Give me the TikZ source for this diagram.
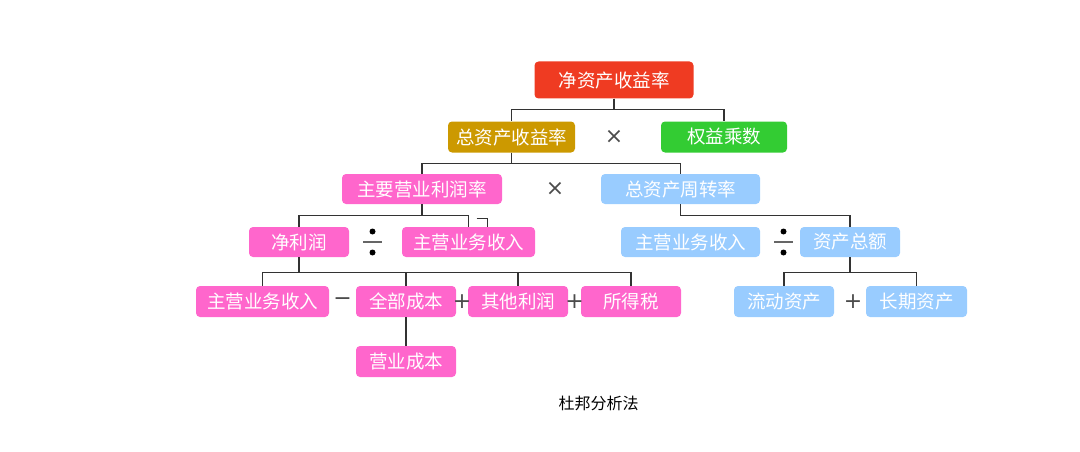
\documentclass[tikz,border=0pt]{standalone}
\usepackage{fontspec}
\setmainfont{Noto Sans CJK SC}
\newfontfamily\opfont{DejaVu Sans}
\usetikzlibrary{positioning}
\definecolor{roered}{RGB}{239,59,34}
\definecolor{gold}{RGB}{204,153,0}
\definecolor{green}{RGB}{51,204,51}
\definecolor{pink}{RGB}{255,102,204}
\definecolor{sky}{RGB}{153,204,255}
\definecolor{linkgray}{RGB}{51,51,51}

\begin{document}
\begin{tikzpicture}[x=1pt, y=-1pt,
    every node/.style={font=\fontsize{18.5}{21}\selectfont},
    box/.style={rectangle, rounded corners=4pt, text=white, minimum height=31pt, inner sep=0pt},
    op/.style={text=black!70, font=\opfont\fontsize{22}{22}\selectfont, inner sep=0pt},
    divsign/.style={minimum width=19pt, minimum height=28pt, inner sep=0pt, path picture={
        \fill ([yshift=10.5pt]path picture bounding box.center) circle (3pt);
        \fill ([yshift=-10.5pt]path picture bounding box.center) circle (3pt);
        \draw[line width=1.2pt, black!60] (path picture bounding box.west) -- (path picture bounding box.east);}},
    link/.style={draw=linkgray, line width=1.2pt}]
    \useasboundingbox (0,0) rectangle (1080,452);
    \node[box, fill=roered, minimum width=159pt, minimum height=37pt] (roe) at (614,80) {净资产收益率};
    \node[box, fill=gold, minimum width=127pt] (roa) at (511.5,137) {总资产收益率};
    \node[box, fill=green, minimum width=126pt] (em) at (724,137) {权益乘数};
    \node[op] (x1) at (614,137) {×};
    \node[box, fill=pink, minimum width=160pt, minimum height=30pt] (opm) at (422,189) {主要营业利润率};
    \node[box, fill=sky, minimum width=159pt, minimum height=30pt] (tat) at (680.5,189) {总资产周转率};
    \node[op] (x2) at (555,189) {×};
    \node[box, fill=pink, minimum width=100pt, minimum height=30pt] (np) at (299,242) {净利润};
    \node[box, fill=pink, minimum width=133pt, minimum height=30pt] (rev) at (468.5,242) {主营业务收入};
    \node[divsign] (d1) at (372.5,242) {};
    \node[box, fill=sky, minimum width=139pt, minimum height=30pt] (rev2) at (690.5,242) {主营业务收入};
    \node[box, fill=sky, minimum width=100pt, minimum height=30pt] (ta) at (850,242) {资产总额};
    \node[divsign] (d2) at (783.5,242) {};
    \node[box, fill=pink, minimum width=133pt] (rev3) at (262.5,301.5) {主营业务收入};
    \node[box, fill=pink, minimum width=100pt] (cost) at (406,301.5) {全部成本};
    \node[box, fill=pink, minimum width=100pt] (other) at (518,301.5) {其他利润};
    \node[box, fill=pink, minimum width=100pt] (tax) at (631,301.5) {所得税};
    \node[op] (m1) at (342.5,301.5) {−};
    \node[op] (p1) at (462,301.5) {+};
    \node[op] (p2) at (574.5,301.5) {+};
    \node[box, fill=pink, minimum width=100pt] (opcost) at (406,361.5) {营业成本};
    \node[box, fill=sky, minimum width=100pt] (ca) at (784,301.5) {流动资产};
    \node[box, fill=sky, minimum width=101pt] (nca) at (916.5,301.5) {长期资产};
    \node[op] (p3) at (853,301.5) {+};
    \node[font=\fontsize{16}{19}\selectfont] (title) at (598.5,403) {杜邦分析法};
    % connectors
    \draw[link] (roe.south) -- ++(0,11) -| (roa.north);
    \draw[link] (roe.south) -- ++(0,11) -| (em.north);
    \draw[link] (roa.south) -- ++(0,11) -| (opm.north);
    \draw[link] (roa.south) -- ++(0,11) -| (tat.north);
    \draw[link] (opm.south) -- ++(0,11) -| (np.north);
    \draw[link] (opm.south) -- ++(0,11) -| (rev.north);
    \draw[link] ([xshift=8pt, yshift=8pt]rev.north) -| ([xshift=19pt]rev.north);
    \draw[link] (tat.south) -- ++(0,11) -| (ta.north);
    \foreach \n in {rev3, cost, other, tax}
        \draw[link] (np.south) -- ++(0,15) -| (\n.north);
    \foreach \n in {ca, nca}
        \draw[link] (ta.south) -- ++(0,15) -| (\n.north);
    \draw[link] (cost.south) -- (opcost.north);
\end{tikzpicture}
\end{document}
